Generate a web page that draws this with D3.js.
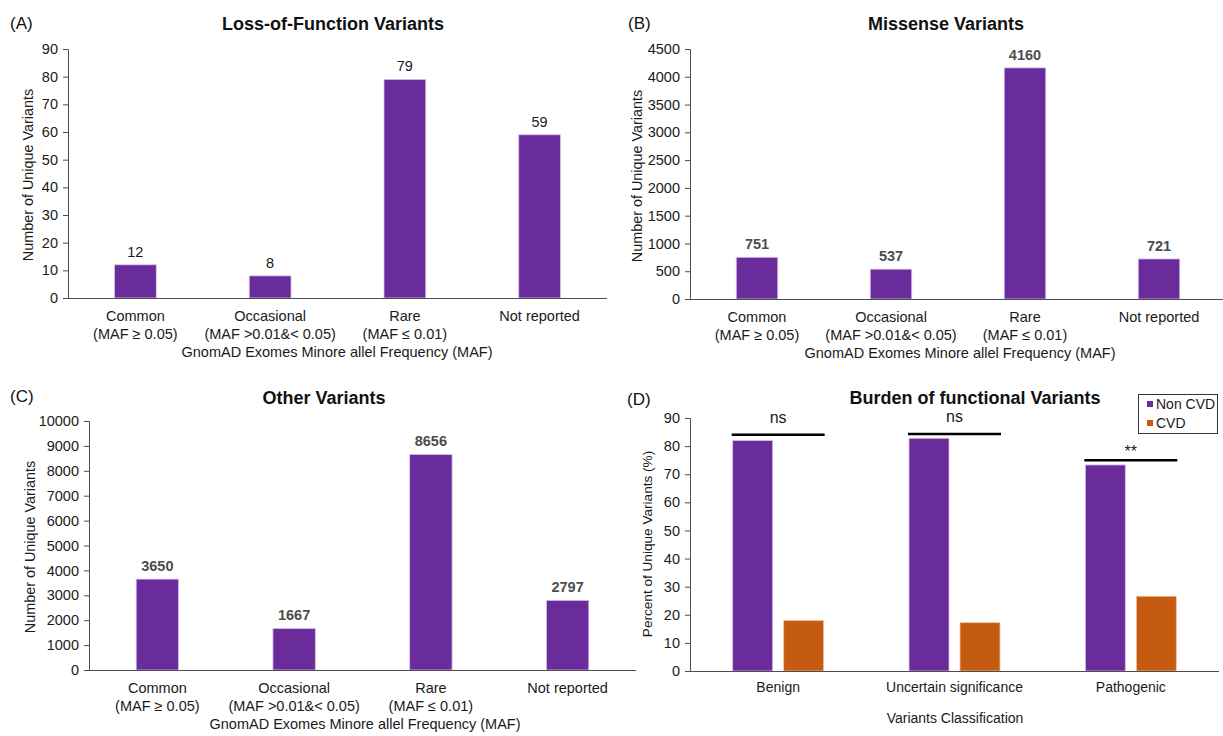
<!DOCTYPE html>
<html>
<head>
<meta charset="utf-8">
<script src="https://cdn.jsdelivr.net/npm/d3@7"></script>
<style>
  html, body { margin: 0; padding: 0; background: #fff; }
  svg { display: block; }
  text { font-family: "Liberation Sans", Arial, Helvetica, sans-serif; }
</style>
</head>
<body>
<svg id="chart" width="1223" height="736"></svg>
<script>
// ---------------- Data ----------------
const categories = ["Common", "Occasional", "Rare", "Not reported"];
const categoryRanges = ["(MAF \u2265 0.05)", "(MAF >0.01&< 0.05)", "(MAF \u2264 0.01)", ""];
const lofValues = [12, 8, 79, 59];
const missenseValues = [751, 537, 4160, 721];
const otherValues = [3650, 1667, 8656, 2797];
const lofTicks = [0, 10, 20, 30, 40, 50, 60, 70, 80, 90];
const missenseTicks = [0, 500, 1000, 1500, 2000, 2500, 3000, 3500, 4000, 4500];
const otherTicks = [0, 1000, 2000, 3000, 4000, 5000, 6000, 7000, 8000, 9000, 10000];

const burdenCategories = ["Benign", "Uncertain significance", "Pathogenic"];
const burdenSeries = ["Non CVD", "CVD"];
const nonCvdPct = [82.0, 82.8, 73.3];
const cvdPct = [18.0, 17.2, 26.6];
const burdenTicks = [0, 10, 20, 30, 40, 50, 60, 70, 80, 90];
const sigLabels = ["ns", "ns", "**"];
const sigLevels = [84.0, 84.3, 75.0];

const xAxisTitle = "GnomAD Exomes Minore allel Frequency (MAF)";
const yAxisTitle = "Number of Unique Variants";

// ---------------- Styles ----------------
const PURPLE = "#6a2c9b";
const ORANGE = "#c55a11";
const BAR_STROKE = "#d8c4ea";
const AXIS = "#4d4d4d";
const TEXT = "#1a1a1a";

const svg = d3.select("#chart");
svg.append("rect").attr("width", 1223).attr("height", 736).attr("fill", "#fff");

function yAxisDraw(g, y, ticks, x0) {
  const ax = g.append("g")
    .attr("transform", `translate(${x0},0)`)
    .call(d3.axisLeft(y).tickValues(ticks).tickSize(5).tickPadding(5).tickFormat(d3.format("d")));
  ax.select(".domain").attr("stroke", AXIS).attr("stroke-width", 1);
  ax.selectAll(".tick line").attr("stroke", AXIS);
  ax.selectAll(".tick text").attr("fill", TEXT).style("font-size", "14.5px");
}

function panelMAF(opt) {
  const g = svg.append("g");
  const x = d3.scaleBand().domain(categories).range(opt.xRange).paddingInner(0.69).paddingOuter(0.345);
  const y = d3.scaleLinear().domain([0, opt.ticks[opt.ticks.length - 1]]).range(opt.yRange);

  g.selectAll("rect.bar").data(opt.values).enter().append("rect")
    .attr("x", (d, i) => x(categories[i]))
    .attr("y", d => y(d))
    .attr("width", x.bandwidth())
    .attr("height", d => y(0) - y(d))
    .attr("fill", PURPLE)
    .attr("stroke", BAR_STROKE).attr("stroke-width", 0.8);

  g.selectAll("text.val").data(opt.values).enter().append("text")
    .attr("x", (d, i) => x(categories[i]) + x.bandwidth() / 2)
    .attr("y", d => y(d) - 8)
    .attr("text-anchor", "middle")
    .style("font-size", "14.5px")
    .style("font-weight", opt.boldVals ? "bold" : "normal")
    .attr("fill", opt.boldVals ? "#4d4d4d" : TEXT)
    .text(d => d);

  yAxisDraw(g, y, opt.ticks, opt.xRange[0]);

  g.append("line")
    .attr("x1", opt.xRange[0]).attr("x2", opt.xRange[1])
    .attr("y1", y(0) + 0.5).attr("y2", y(0) + 0.5)
    .attr("stroke", AXIS).attr("stroke-width", 1.2);

  const lab = g.selectAll("text.cat").data(categories).enter().append("text")
    .attr("text-anchor", "middle")
    .attr("fill", TEXT)
    .style("font-size", "14.5px");
  lab.append("tspan")
    .attr("x", d => x(d) + x.bandwidth() / 2)
    .attr("y", y(0) + 23)
    .text(d => d);
  lab.append("tspan")
    .attr("x", d => x(d) + x.bandwidth() / 2)
    .attr("y", y(0) + 41)
    .text((d, i) => categoryRanges[i]);

  g.append("text")
    .attr("x", opt.xTitleX).attr("y", y(0) + 59)
    .attr("text-anchor", "middle").attr("fill", TEXT)
    .style("font-size", "14.5px")
    .text(xAxisTitle);

  g.append("text")
    .attr("transform", `translate(${opt.yTitleX},${opt.yTitleY}) rotate(-90)`)
    .attr("text-anchor", "middle").attr("dy", "0.35em").attr("fill", TEXT)
    .style("font-size", "14.4px")
    .text(yAxisTitle);

  g.append("text")
    .attr("x", opt.titleX).attr("y", opt.titleY)
    .attr("text-anchor", "middle").attr("fill", "#111")
    .style("font-size", "18px").style("font-weight", "bold")
    .text(opt.title);

  g.append("text")
    .attr("x", opt.letterX).attr("y", opt.letterY)
    .attr("fill", "#111").style("font-size", "17px")
    .text(opt.letter);
}

panelMAF({
  values: lofValues, ticks: lofTicks, xRange: [68, 607], yRange: [298, 49],
  boldVals: false, title: "Loss-of-Function Variants", titleX: 333, titleY: 30,
  letter: "(A)", letterX: 10, letterY: 29, xTitleX: 337, yTitleX: 28, yTitleY: 175
});
panelMAF({
  values: missenseValues, ticks: missenseTicks, xRange: [690, 1226], yRange: [299, 49],
  boldVals: true, title: "Missense Variants", titleX: 946, titleY: 30,
  letter: "(B)", letterX: 628, letterY: 29, xTitleX: 960, yTitleX: 637, yTitleY: 176
});
panelMAF({
  values: otherValues, ticks: otherTicks, xRange: [89, 636], yRange: [670, 421],
  boldVals: true, title: "Other Variants", titleX: 324, titleY: 404,
  letter: "(C)", letterX: 10, letterY: 402, xTitleX: 365, yTitleX: 30, yTitleY: 547
});

// ---------------- Panel D ----------------
(function () {
  const g = svg.append("g");
  const xRange = [690, 1219];
  const x0 = d3.scaleBand().domain(burdenCategories).range(xRange).paddingInner(0.484).paddingOuter(0.242);
  const x1 = d3.scaleBand().domain(burdenSeries).range([0, x0.bandwidth()]).paddingInner(0.2157);
  const y = d3.scaleLinear().domain([0, 90]).range([671, 418]);
  const color = d3.scaleOrdinal().domain(burdenSeries).range([PURPLE, ORANGE]);
  const seriesVals = [nonCvdPct, cvdPct];

  burdenSeries.forEach((s, si) => {
    g.selectAll("rect.s" + si).data(seriesVals[si]).enter().append("rect")
      .attr("x", (d, i) => x0(burdenCategories[i]) + x1(s))
      .attr("y", d => y(d))
      .attr("width", x1.bandwidth())
      .attr("height", d => y(0) - y(d))
      .attr("fill", color(s))
      .attr("stroke", si === 0 ? BAR_STROKE : "#f0c9a8").attr("stroke-width", 0.8);
  });

  yAxisDraw(g, y, burdenTicks, xRange[0]);

  g.append("line")
    .attr("x1", xRange[0]).attr("x2", xRange[1])
    .attr("y1", y(0) + 0.5).attr("y2", y(0) + 0.5)
    .attr("stroke", AXIS).attr("stroke-width", 1.2);

  g.selectAll("line.sig").data(sigLevels).enter().append("line")
    .attr("x1", (d, i) => x0(burdenCategories[i]) - 1)
    .attr("x2", (d, i) => x0(burdenCategories[i]) + x0.bandwidth() + 1)
    .attr("y1", d => y(d)).attr("y2", d => y(d))
    .attr("stroke", "#000").attr("stroke-width", 2.5);
  g.selectAll("text.sig").data(sigLevels).enter().append("text")
    .attr("x", (d, i) => x0(burdenCategories[i]) + x0.bandwidth() / 2)
    .attr("y", (d, i) => y(d) - (sigLabels[i] === "**" ? 3 : 12))
    .attr("text-anchor", "middle").attr("fill", TEXT)
    .style("font-size", "16px")
    .text((d, i) => sigLabels[i]);

  g.selectAll("text.cat").data(burdenCategories).enter().append("text")
    .attr("x", d => x0(d) + x0.bandwidth() / 2)
    .attr("y", y(0) + 21)
    .attr("text-anchor", "middle").attr("fill", TEXT)
    .style("font-size", "14px")
    .text(d => d);

  g.append("text")
    .attr("x", 955).attr("y", y(0) + 52)
    .attr("text-anchor", "middle").attr("fill", TEXT)
    .style("font-size", "14px")
    .text("Variants Classification");

  g.append("text")
    .attr("transform", `translate(647,544) rotate(-90)`)
    .attr("text-anchor", "middle").attr("dy", "0.35em").attr("fill", TEXT)
    .style("font-size", "13.6px")
    .text("Percent of Unique Variants (%)");

  g.append("text")
    .attr("x", 975).attr("y", 404)
    .attr("text-anchor", "middle").attr("fill", "#111")
    .style("font-size", "18px").style("font-weight", "bold")
    .text("Burden of functional Variants");

  g.append("text")
    .attr("x", 627).attr("y", 405)
    .attr("fill", "#111").style("font-size", "17px")
    .text("(D)");

  const lg = g.append("g");
  lg.append("rect")
    .attr("x", 1138.5).attr("y", 394.5).attr("width", 79).attr("height", 39)
    .attr("fill", "#fff").attr("stroke", "#333").attr("stroke-width", 1);
  const items = lg.selectAll("g.item").data(burdenSeries).enter().append("g")
    .attr("transform", (d, i) => `translate(1147,${404 + i * 19})`);
  items.append("rect")
    .attr("x", 0).attr("y", -3).attr("width", 6).attr("height", 6)
    .attr("fill", d => color(d));
  items.append("text")
    .attr("x", 9).attr("y", 0).attr("dy", "0.35em")
    .attr("fill", TEXT).style("font-size", "14px")
    .text(d => d);
})();
</script>
</body>
</html>
